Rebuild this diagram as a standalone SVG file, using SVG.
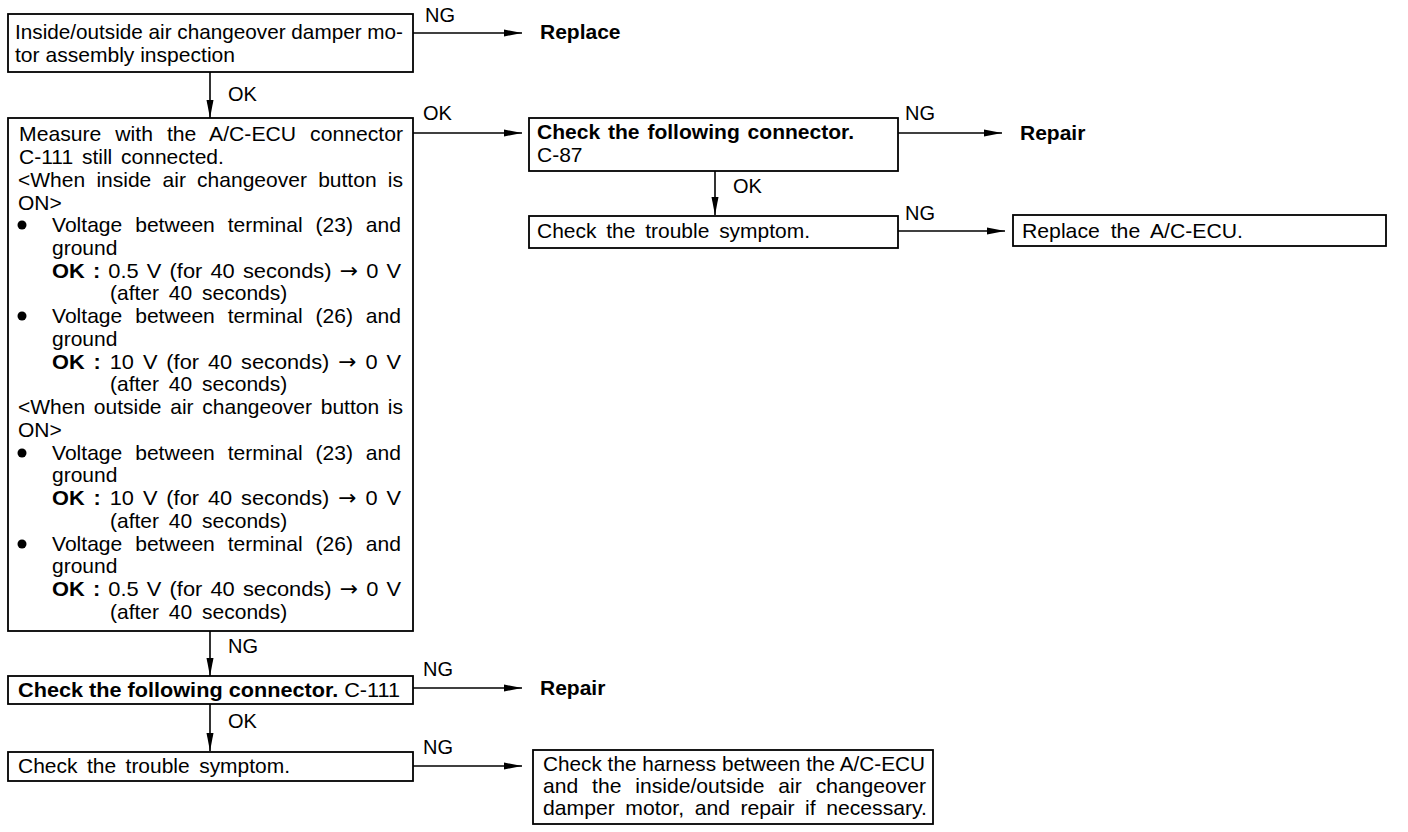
<svg xmlns="http://www.w3.org/2000/svg" width="1408" height="832" viewBox="0 0 1408 832">
<style>
.box{fill:#fff;stroke:#000;stroke-width:1.8}
text{font-family:"Liberation Sans",Arial,sans-serif;font-size:21px;fill:#000}
.b{font-weight:bold}
.ar{font-family:"DejaVu Sans",sans-serif}
.lbl{font-size:20px}
.ln{stroke:#000;stroke-width:1.6;fill:none}
</style>
<defs>
<marker id="ah" viewBox="0 0 18 8" refX="18" refY="4" markerWidth="18" markerHeight="8" markerUnits="userSpaceOnUse" orient="auto">
<path d="M0,0.5 L18,4 L0,7.5 Z" fill="#000"/>
</marker>
</defs>
<rect width="1408" height="832" fill="#fff"/>
<g id="connectors">
<line class="ln" x1="413" y1="33" x2="522" y2="33" marker-end="url(#ah)"/>
<text class="lbl" x="425" y="22">NG</text>
<line class="ln" x1="210" y1="72" x2="210" y2="118" marker-end="url(#ah)"/>
<text class="lbl" x="228" y="101">OK</text>
<line class="ln" x1="413" y1="133" x2="522" y2="133" marker-end="url(#ah)"/>
<text class="lbl" x="423" y="120">OK</text>
<line class="ln" x1="898" y1="133" x2="1002" y2="133" marker-end="url(#ah)"/>
<text class="lbl" x="905" y="120">NG</text>
<line class="ln" x1="715" y1="171" x2="715" y2="215" marker-end="url(#ah)"/>
<text class="lbl" x="733" y="193">OK</text>
<line class="ln" x1="898" y1="231" x2="1005" y2="231" marker-end="url(#ah)"/>
<text class="lbl" x="905" y="220">NG</text>
<line class="ln" x1="210" y1="631" x2="210" y2="676" marker-end="url(#ah)"/>
<text class="lbl" x="228" y="653">NG</text>
<line class="ln" x1="413" y1="688" x2="522" y2="688" marker-end="url(#ah)"/>
<text class="lbl" x="423" y="676">NG</text>
<line class="ln" x1="210" y1="704" x2="210" y2="751" marker-end="url(#ah)"/>
<text class="lbl" x="228" y="728">OK</text>
<line class="ln" x1="413" y1="766" x2="522" y2="766" marker-end="url(#ah)"/>
<text class="lbl" x="423" y="754">NG</text>
</g>
<g id="n1">
<rect class="box" x="8" y="14" width="405" height="58"/>
<text x="15" y="39" textLength="388" lengthAdjust="spacingAndGlyphs">Inside/outside air changeover damper mo-</text>
<text x="15" y="62" textLength="220" lengthAdjust="spacingAndGlyphs">tor assembly inspection</text>
</g>
<g id="replace1"><text class="b" x="540" y="39">Replace</text></g>
<g id="n2">
<rect class="box" x="8" y="118" width="405" height="513"/>
<text x="19" y="141" word-spacing="8" textLength="384" lengthAdjust="spacingAndGlyphs">Measure with the A/C-ECU connector</text>
<text x="19" y="164" word-spacing="3">C-111 still connected.</text>
<text x="18" y="187" word-spacing="5.4" textLength="385" lengthAdjust="spacingAndGlyphs">&lt;When inside air changeover button is</text>
<text x="18" y="210">ON&gt;</text>
<circle cx="22" cy="225" r="4.5"/>
<text x="52" y="232" word-spacing="7" textLength="349" lengthAdjust="spacingAndGlyphs">Voltage between terminal (23) and</text>
<text x="52" y="255">ground</text>
<text x="52" y="278" word-spacing="2" textLength="349" lengthAdjust="spacingAndGlyphs"><tspan class="b">OK :</tspan> 0.5 V (for 40 seconds) <tspan class="ar">→</tspan> 0 V</text>
<text x="110" y="300" word-spacing="4">(after 40 seconds)</text>
<circle cx="22" cy="316" r="4.5"/>
<text x="52" y="323" word-spacing="7" textLength="349" lengthAdjust="spacingAndGlyphs">Voltage between terminal (26) and</text>
<text x="52" y="346">ground</text>
<text x="52" y="369" word-spacing="2.8" textLength="349" lengthAdjust="spacingAndGlyphs"><tspan class="b">OK :</tspan> 10 V (for 40 seconds) <tspan class="ar">→</tspan> 0 V</text>
<text x="110" y="391" word-spacing="4">(after 40 seconds)</text>
<text x="18" y="414" word-spacing="2.9" textLength="385" lengthAdjust="spacingAndGlyphs">&lt;When outside air changeover button is</text>
<text x="18" y="437">ON&gt;</text>
<circle cx="22" cy="453" r="4.5"/>
<text x="52" y="460" word-spacing="7" textLength="349" lengthAdjust="spacingAndGlyphs">Voltage between terminal (23) and</text>
<text x="52" y="482">ground</text>
<text x="52" y="505" word-spacing="2.8" textLength="349" lengthAdjust="spacingAndGlyphs"><tspan class="b">OK :</tspan> 10 V (for 40 seconds) <tspan class="ar">→</tspan> 0 V</text>
<text x="110" y="528" word-spacing="4">(after 40 seconds)</text>
<circle cx="22" cy="544" r="4.5"/>
<text x="52" y="551" word-spacing="7" textLength="349" lengthAdjust="spacingAndGlyphs">Voltage between terminal (26) and</text>
<text x="52" y="573">ground</text>
<text x="52" y="596" word-spacing="2" textLength="349" lengthAdjust="spacingAndGlyphs"><tspan class="b">OK :</tspan> 0.5 V (for 40 seconds) <tspan class="ar">→</tspan> 0 V</text>
<text x="110" y="619" word-spacing="4">(after 40 seconds)</text>
</g>
<g id="n3">
<rect class="box" x="529" y="118" width="369" height="53"/>
<text class="b" x="537" y="139" word-spacing="2" textLength="317" lengthAdjust="spacingAndGlyphs">Check the following connector.</text>
<text x="537" y="162">C-87</text>
</g>
<g id="repair1"><text class="b" x="1020" y="140">Repair</text></g>
<g id="n4">
<rect class="box" x="529" y="216" width="369" height="32"/>
<text x="537" y="238" word-spacing="4" textLength="273" lengthAdjust="spacingAndGlyphs">Check the trouble symptom.</text>
</g>
<g id="n5">
<rect class="box" x="1013" y="215" width="373" height="31"/>
<text x="1022" y="238" word-spacing="5" textLength="221" lengthAdjust="spacingAndGlyphs">Replace the A/C-ECU.</text>
</g>
<g id="n6">
<rect class="box" x="8" y="676" width="405" height="28"/>
<text x="18" y="697" textLength="382" lengthAdjust="spacingAndGlyphs"><tspan class="b">Check the following connector.</tspan> C-111</text>
</g>
<g id="repair2"><text class="b" x="540" y="695">Repair</text></g>
<g id="n7">
<rect class="box" x="8" y="752" width="405" height="29"/>
<text x="18" y="773" word-spacing="3.7" textLength="272" lengthAdjust="spacingAndGlyphs">Check the trouble symptom.</text>
</g>
<g id="n8">
<rect class="box" x="533" y="750" width="400" height="74"/>
<text x="543" y="771" textLength="382" lengthAdjust="spacingAndGlyphs">Check the harness between the A/C-ECU</text>
<text x="543" y="793" word-spacing="8" textLength="383" lengthAdjust="spacingAndGlyphs">and the inside/outside air changeover</text>
<text x="543" y="815" word-spacing="4.6" textLength="384" lengthAdjust="spacingAndGlyphs">damper motor, and repair if necessary.</text>
</g>
</svg>
